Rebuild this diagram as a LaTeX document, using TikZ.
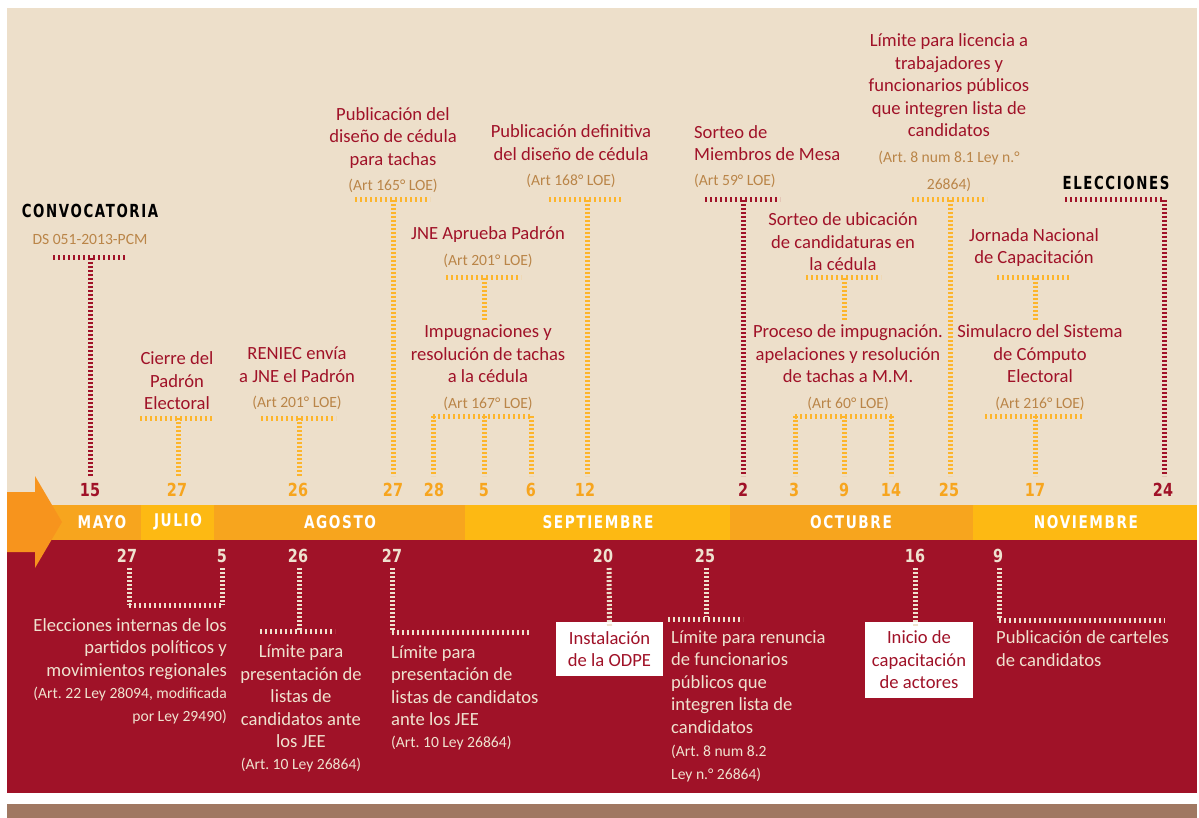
\documentclass[tikz,border=0pt]{standalone}
\usepackage{fontspec}
\setmainfont{Carlito}
\frenchspacing
\newfontfamily\condf[FakeStretch=0.8]{DejaVu Sans}
\newfontfamily\headf[FakeStretch=0.74,LetterSpace=9]{DejaVu Sans}
\newfontfamily\monthf[FakeStretch=0.78,LetterSpace=9]{DejaVu Sans}
\definecolor{cred}{HTML}{A01228}
\definecolor{cbg}{HTML}{EDDFCA}
\definecolor{corg}{HTML}{F7A51E}
\definecolor{cyl}{HTML}{FDB913}
\definecolor{carrow}{HTML}{F7941D}
\definecolor{cdot}{HTML}{FDB52B}
\definecolor{ctan}{HTML}{BA8548}
\definecolor{cbei}{HTML}{EFE2CF}
\definecolor{cbrown}{HTML}{A07862}
\begin{document}
\begin{tikzpicture}[x=1pt,y=-1pt,
  lbl/.style={font=\fontsize{18.6}{22.5}\selectfont, text=cred, align=center, inner sep=0pt},
  art/.style={font=\fontsize{15.6}{23}\selectfont, text=ctan, align=center, inner sep=0pt},
  wlbl/.style={lbl, text=cbei},
  wart/.style={art, text=cbei},
  head/.style={font=\headf\bfseries\fontsize{18}{18}\selectfont, text=black, inner sep=0pt},
  num/.style={font=\condf\bfseries\fontsize{18}{18}\selectfont, text=corg, inner sep=0pt},
  numr/.style={num, text=cred},
  numb/.style={num, text=cbei},
  month/.style={font=\monthf\bfseries\fontsize{17.5}{17.5}\selectfont, text=white, inner sep=0pt},
  vy/.style={draw=cdot, line width=5pt, dash pattern=on 2pt off 2pt},
  hy/.style={draw=cdot, line width=5pt, dash pattern=on 2pt off 3pt},
  vr/.style={vy, draw=cred},
  hr/.style={hy, draw=cred},
  vb/.style={vy, draw=cbei},
  hb/.style={hy, draw=cbei},
  wbox/.style={fill=white, text=cred, font=\fontsize{18.6}{22.5}\selectfont, align=center, inner sep=0pt}
]
\useasboundingbox (0,0) rectangle (1199,818);
% backgrounds
\fill[cbg] (7,8) rectangle (1197,505);
\fill[cred] (7,540) rectangle (1197,793);
\fill[cbrown] (7,804) rectangle (1197,818);
% month band
\fill[corg] (35,505) rectangle (141,540);
\fill[cyl] (141,505) rectangle (214,540);
\fill[corg] (214,505) rectangle (465,540);
\fill[cyl] (465,505) rectangle (730,540);
\fill[corg] (730,505) rectangle (973,540);
\fill[cyl] (973,505) rectangle (1197,540);
\fill[carrow] (7,492) -- (35,492) -- (35,476) -- (62,522) -- (35,568) -- (35,552) -- (7,552) -- cycle;
\node[month] (mmay) at (102,522) {MAYO};
\node[month] (mjul) at (178,522) {JULIO};
\node[month] (mago) at (340,522) {AGOSTO};
\node[month] (msep) at (598,522) {SEPTIEMBRE};
\node[month] (moct) at (851,522) {OCTUBRE};
\node[month] (mnov) at (1086,522) {NOVIEMBRE};

% ---------- top numbers
\node[numr] (t15) at (90,490) {15};
\node[num] (t27a) at (177,490) {27};
\node[num] (t26) at (298,490) {26};
\node[num] (t27b) at (393,490) {27};
\node[num] (t28) at (434,490) {28};
\node[num] (t5) at (484,490) {5};
\node[num] (t6) at (531,490) {6};
\node[num] (t12) at (585,490) {12};
\node[numr] (t2) at (743,490) {2};
\node[num] (t3) at (794,490) {3};
\node[num] (t9) at (844,490) {9};
\node[num] (t14) at (891,490) {14};
\node[num] (t25) at (949,490) {25};
\node[num] (t17) at (1035,490) {17};
\node[numr] (t24) at (1163,490) {24};

% ---------- top labels
\node[head] (conv) at (90,211) {CONVOCATORIA};
\node[art] (ds) at (90,239) {DS 051-2013-PCM};
\node[lbl] (cierre) at (177,381) {Cierre del\\Padrón\\Electoral};
\node[lbl] (reniec) at (297,364.5) {RENIEC envía\\a JNE el Padrón};
\node[art] (reniecA) at (297,403) {(Art 201° LOE)};
\node[lbl] (pubdis) at (393,138) {Publicación del\\diseño de cédula\\para tachas};
\node[art] (pubdisA) at (393,186) {(Art 165° LOE)};
\node[lbl] (jne) at (488,235) {JNE Aprueba Padrón};
\node[art] (jneA) at (488,261) {(Art 201° LOE)};
\node[lbl] (impug) at (488,354) {Impugnaciones y\\resolución de tachas\\a la cédula};
\node[art] (impugA) at (488,404) {(Art 167° LOE)};
\node[lbl] (pubdef) at (571,142.5) {Publicación definitiva\\del diseño de cédula};
\node[art] (pubdefA) at (571,181) {(Art 168° LOE)};
\node[lbl, anchor=west, align=left] (sorteo) at (694,143) {Sorteo de\\Miembros de Mesa};
\node[art, anchor=west] (sorteoA) at (694,181) {(Art 59° LOE)};
\node[lbl] (sorubi) at (843,242) {Sorteo de ubicación\\de candidaturas en\\la cédula};
\node[lbl] (proceso) at (848,354) {Proceso de impugnación.\\apelaciones y resolución\\de tachas a M.M.};
\node[art] (procesoA) at (848,404) {(Art 60° LOE)};
\node[lbl] (limlic) at (949,85.5) {Límite para licencia a\\trabajadores y\\funcionarios públicos\\que integren lista de\\candidatos};
\node[art, font=\fontsize{15.6}{27}\selectfont] (limlicA) at (949,171.5) {(Art. 8 num 8.1 Ley n.°\\26864)};
\node[lbl] (jornada) at (1034,247.5) {Jornada Nacional\\de Capacitación};
\node[lbl] (simul) at (1040,354) {Simulacro del Sistema\\de Cómputo\\Electoral};
\node[art] (simulA) at (1040,404) {(Art 216° LOE)};
\node[head] (elec) at (1116,183) {ELECCIONES};

% ---------- top connectors
\coordinate (b1l) at (53,258); \coordinate (b1r) at (127,258); \coordinate (b1c) at (90,258);
\draw[hr] (b1l) -- (b1r);
\draw[vr] (b1c) -- (90,476);
\coordinate (b2l) at (140,418); \coordinate (b2r) at (214,418); \coordinate (b2c) at (178,418);
\draw[hy] (b2l) -- (b2r);
\draw[vy] (b2c) -- (178,476);
\coordinate (b3l) at (261,418); \coordinate (b3r) at (336,418); \coordinate (b3c) at (299,418);
\draw[hy] (b3l) -- (b3r);
\draw[vy] (b3c) -- (299,476);
\coordinate (b4l) at (355,200); \coordinate (b4r) at (430,200); \coordinate (b4c) at (393,200);
\draw[hy] (b4l) -- (b4r);
\draw[vy] (b4c) -- (393,476);
\coordinate (b5l) at (446,278); \coordinate (b5r) at (521,278); \coordinate (b5c) at (484,278);
\draw[hy] (b5l) -- (b5r);
\draw[vy] (b5c) -- (484,320);
\coordinate (b6l) at (433,416); \coordinate (b6r) at (532,416); \coordinate (b6c) at (484,416);
\draw[hy] (b6l) -- (b6r);
\draw[vy] (b6l) -- (433,476);
\draw[vy] (b6c) -- (484,476);
\draw[vy] (531,416) -- (531,476);
\coordinate (b7l) at (549,200); \coordinate (b7r) at (623,200); \coordinate (b7c) at (587,200);
\draw[hy] (b7l) -- (b7r);
\draw[vy] (b7c) -- (587,476);
\coordinate (b8l) at (705,200); \coordinate (b8r) at (780,200); \coordinate (b8c) at (743,200);
\draw[hr] (b8l) -- (b8r);
\draw[vr] (b8c) -- (743,476);
\coordinate (b9l) at (806,278); \coordinate (b9r) at (881,278); \coordinate (b9c) at (844,278);
\draw[hy] (b9l) -- (b9r);
\draw[vy] (b9c) -- (844,320);
\coordinate (b10l) at (795,416); \coordinate (b10r) at (892,416); \coordinate (b10c) at (844,416);
\draw[hy] (b10l) -- (b10r);
\draw[vy] (b10l) -- (795,476);
\draw[vy] (b10c) -- (844,476);
\draw[vy] (891,416) -- (891,476);
\coordinate (b11l) at (912,200); \coordinate (b11r) at (987,200); \coordinate (b11c) at (950,200);
\draw[hy] (b11l) -- (b11r);
\draw[vy] (b11c) -- (950,476);
\coordinate (b12l) at (997,278); \coordinate (b12r) at (1071,278); \coordinate (b12c) at (1035,278);
\draw[hy] (b12l) -- (b12r);
\draw[vy] (b12c) -- (1035,320);
\coordinate (b13l) at (985,416); \coordinate (b13r) at (1082,416); \coordinate (b13c) at (1035,416);
\draw[hy] (b13l) -- (b13r);
\draw[vy] (b13c) -- (1035,476);
\coordinate (b14l) at (1065,200); \coordinate (b14r) at (1164,200);
\draw[hr] (b14l) -- (b14r);
\draw[vr] (b14r) -- (1164,476);

% ---------- bottom numbers
\node[numb] (u27a) at (127,556) {27};
\node[numb] (u5) at (222,556) {5};
\node[numb] (u26) at (298,556) {26};
\node[numb] (u27b) at (392,556) {27};
\node[numb] (u20) at (603,556) {20};
\node[numb] (u25) at (705,556) {25};
\node[numb] (u16) at (915,556) {16};
\node[numb] (u9) at (998,556) {9};

% ---------- bottom labels
\node[wlbl, anchor=east, align=right] (elecint) at (227,649) {Elecciones internas de los\\partidos políticos y\\movimientos regionales};
\node[wart, anchor=east, align=right] (elecintA) at (227,705.5) {(Art. 22 Ley 28094, modificada\\por Ley 29490)};
\node[wlbl] (lim1) at (301,696.5) {Límite para\\presentación de\\listas de\\candidatos ante\\los JEE};
\node[wart] (lim1A) at (301,765) {(Art. 10 Ley 26864)};
\node[wlbl, anchor=west, align=left] (lim2) at (391,685.5) {Límite para\\presentación de\\listas de candidatos\\ante los JEE};
\node[wart, anchor=west] (lim2A) at (391,743) {(Art. 10 Ley 26864)};
\node[wbox, minimum width=107pt, minimum height=54pt] (odpe) at (609.5,649) {Instalación\\de la ODPE};
\node[wlbl, anchor=west, align=left] (lim3) at (671,682) {Límite para renuncia\\de funcionarios\\públicos que\\integren lista de\\candidatos};
\node[wart, anchor=west, align=left] (lim3A) at (671,763.5) {(Art. 8 num 8.2\\Ley n.° 26864)};
\node[wbox, minimum width=108pt, minimum height=76pt] (capac) at (919,660) {Inicio de\\capacitación\\de actores};
\node[wlbl, anchor=west, align=left] (publ) at (996,648.5) {Publicación de carteles\\de candidatos};

% ---------- bottom connectors
\coordinate (c1a) at (129,568); \coordinate (c1b) at (129,605);
\coordinate (c1c) at (222,568); \coordinate (c1d) at (222,605);
\draw[vb] (c1a) -- (c1b);
\draw[vb] (c1c) -- (c1d);
\draw[hb] (c1b) -- (c1d);
\coordinate (c2a) at (299,568); \coordinate (c2b) at (299,631);
\draw[vb] (c2a) -- (c2b);
\draw[hb] (260,631) -- (335,631);
\coordinate (c3a) at (392,568); \coordinate (c3b) at (392,632); \coordinate (c3c) at (531,632);
\draw[vb] (c3a) -- (c3b);
\draw[hb] (c3b) -- (c3c);
\draw[vb] (609,568) -- ([yshift=-4pt]odpe.north);
\coordinate (c5a) at (706,568); \coordinate (c5b) at (706,617);
\draw[vb] (c5a) -- (c5b);
\draw[hb] (668,619) -- (743,619);
\draw[vb] (915,568) -- ([yshift=-4pt]capac.north -| 915,0);
\coordinate (c7a) at (999,568); \coordinate (c7b) at (999,620); \coordinate (c7c) at (1165,620);
\draw[vb] (c7a) -- (c7b);
\draw[hb] (c7b) -- (c7c);
\end{tikzpicture}
\end{document}
